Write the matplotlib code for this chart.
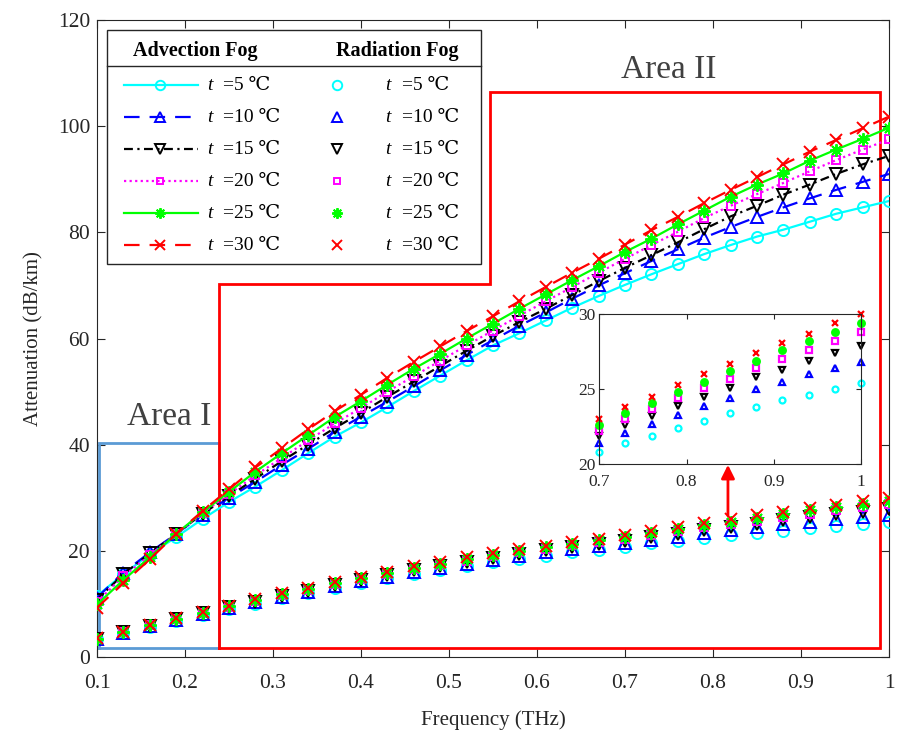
import matplotlib
matplotlib.use("Agg")
import matplotlib.pyplot as plt
from matplotlib.lines import Line2D
from matplotlib.patches import Rectangle

SERIF = ["Liberation Serif", "DejaVu Serif", "DejaVu Sans"]
plt.rcParams["font.family"] = SERIF
plt.rcParams["axes.unicode_minus"] = False

# ---------------- data ----------------
freq = [0.10, 0.13, 0.16, 0.19, 0.22, 0.25, 0.28, 0.31, 0.34, 0.37, 0.40,
        0.43, 0.46, 0.49, 0.52, 0.55, 0.58, 0.61, 0.64, 0.67, 0.70,
        0.73, 0.76, 0.79, 0.82, 0.85, 0.88, 0.91, 0.94, 0.97, 1.00]
temps = [5, 10, 15, 20, 25, 30]

# advection fog attenuation (dB/km)
adv_5 = [11.5, 15.6, 19.3, 22.6, 26.0, 29.2, 32.1, 35.2, 38.4, 41.5, 44.2,
         47.1, 50.1, 53.0, 55.9, 58.7, 61.0, 63.4, 65.8, 68.0, 70.1,
         72.1, 74.0, 75.9, 77.6, 79.2, 80.5, 82.0, 83.5, 84.7, 85.9]
adv_10 = [11.2, 15.9, 19.7, 23.2, 26.8, 30.0, 33.0, 36.2, 39.2, 42.4, 45.3,
          48.1, 51.0, 54.0, 56.9, 59.7, 62.4, 64.9, 67.5, 70.0, 72.3,
          74.6, 76.8, 79.0, 81.0, 82.9, 84.7, 86.4, 88.0, 89.5, 91.0]
adv_15 = [10.8, 15.6, 19.5, 23.2, 27.0, 30.3, 33.6, 36.9, 40.0, 43.1, 46.0,
          49.0, 51.9, 54.8, 57.7, 60.5, 63.1, 65.6, 68.2, 70.8, 73.3,
          75.7, 78.1, 80.6, 83.0, 85.0, 87.1, 89.0, 91.0, 92.8, 94.4]
adv_20 = [10.4, 15.2, 19.2, 23.2, 27.1, 30.7, 34.2, 37.5, 40.8, 44.0, 46.9,
          50.0, 52.9, 55.8, 58.7, 61.5, 64.3, 67.0, 69.7, 72.4, 75.0,
          77.6, 80.1, 82.7, 85.0, 87.2, 89.3, 91.5, 93.6, 95.6, 97.5]
adv_25 = [9.9, 14.5, 18.8, 23.2, 27.3, 31.1, 34.9, 38.4, 41.8, 45.2, 48.2,
          51.3, 54.3, 57.1, 60.0, 62.8, 65.6, 68.3, 71.0, 73.6, 76.3,
          78.8, 81.5, 84.1, 86.7, 89.0, 91.1, 93.5, 95.6, 97.6, 99.7]
adv_30 = [9.3, 13.9, 18.4, 23.2, 27.5, 31.6, 35.7, 39.3, 42.9, 46.3, 49.4,
          52.6, 55.6, 58.5, 61.4, 64.2, 67.0, 69.7, 72.4, 75.0, 77.7,
          80.4, 82.9, 85.5, 88.0, 90.4, 92.8, 95.2, 97.4, 99.6, 101.8]

# radiation fog attenuation (dB/km)
rad_5 = [3.3, 4.55, 5.7, 6.85, 7.9, 9.0, 10.05, 11.1, 12.05, 13.0, 13.95,
         14.8, 15.65, 16.4, 17.15, 17.85, 18.5, 19.1, 19.7, 20.25, 20.8,
         21.4, 21.9, 22.4, 22.9, 23.4, 23.8, 24.3, 24.6, 25.0, 25.4]
rad_10 = [3.35, 4.6, 5.8, 7.0, 8.05, 9.2, 10.3, 11.35, 12.3, 13.3, 14.25,
          15.15, 16.0, 16.8, 17.6, 18.35, 19.05, 19.7, 20.3, 20.85, 21.4,
          22.1, 22.7, 23.3, 23.9, 24.4, 25.0, 25.5, 26.0, 26.4, 26.8]
rad_15 = [3.4, 4.7, 5.9, 7.1, 8.2, 9.35, 10.45, 11.5, 12.5, 13.5, 14.5,
          15.4, 16.3, 17.1, 17.9, 18.7, 19.4, 20.1, 20.75, 21.35, 21.9,
          22.6, 23.2, 23.9, 24.5, 25.1, 25.8, 26.3, 26.9, 27.4, 27.9]
rad_20 = [3.4, 4.7, 5.95, 7.15, 8.25, 9.45, 10.55, 11.65, 12.7, 13.7, 14.7,
          15.6, 16.5, 17.3, 18.15, 18.95, 19.7, 20.4, 21.05, 21.65, 22.2,
          23.0, 23.7, 24.4, 25.1, 25.7, 26.4, 27.0, 27.6, 28.2, 28.8]
rad_25 = [3.45, 4.75, 6.0, 7.2, 8.35, 9.6, 10.7, 11.8, 12.85, 13.9, 14.9,
          15.85, 16.75, 17.6, 18.45, 19.25, 20.0, 20.7, 21.35, 22.0, 22.6,
          23.4, 24.1, 24.8, 25.5, 26.2, 26.9, 27.6, 28.2, 28.8, 29.4]
rad_30 = [3.5, 4.8, 6.05, 7.3, 8.45, 9.7, 10.85, 12.0, 13.05, 14.1, 15.15,
          16.1, 17.05, 17.9, 18.75, 19.55, 20.3, 21.0, 21.65, 22.3, 23.0,
          23.8, 24.5, 25.3, 26.0, 26.7, 27.4, 28.1, 28.7, 29.4, 30.0]

adv_series = [adv_5, adv_10, adv_15, adv_20, adv_25, adv_30]
rad_series = [rad_5, rad_10, rad_15, rad_20, rad_25, rad_30]

x_ticks = [0.1, 0.2, 0.3, 0.4, 0.5, 0.6, 0.7, 0.8, 0.9, 1.0]
x_tick_labels = ["0.1", "0.2", "0.3", "0.4", "0.5", "0.6", "0.7", "0.8", "0.9", "1"]
y_ticks = [0, 20, 40, 60, 80, 100, 120]
inset_x_ticks = [0.7, 0.8, 0.9, 1.0]
inset_x_labels = ["0.7", "0.8", "0.9", "1"]
inset_y_ticks = [20, 25, 30]
inset_start = 20  # index of 0.70 THz

# highlighted regions (frequency, attenuation)
area1_x = [0.102, 0.2386, 0.2386, 0.102, 0.102]
area1_y = [1.75, 1.75, 40.3, 40.3, 1.75]
area2_x = [0.2386, 0.2386, 0.5466, 0.5466, 0.9898, 0.9898, 0.2386]
area2_y = [1.75, 70.3, 70.3, 106.5, 106.5, 1.75, 1.75]
arrow_f = 0.817
arrow_from, arrow_to = 26.6, 36.2

# ---------------- styles ----------------
colors = [(0, 1, 1), (0, 0, 1), (0, 0, 0), (1, 0, 1), (0, 1, 0), (1, 0, 0)]
asterisk = (8, 2, 0)
markers = ["o", "^", "v", "s", asterisk, "x"]
msizes = [8, 8.5, 8.5, 5.5, 9, 8]
linestyles = ["-", (0, (7, 4.5)), (0, (4, 2, 1, 2)), (0, (1, 1.5)), "-", (0, (7, 4.5))]
inset_ms = [4.3, 4.6, 4.8, 4.2, 4.8, 4.0]
inset_markers = ["o", "^", "v", "s", "o", "x"]
inset_fill = ["none", "none", "none", "none", (0, 1, 0), "none"]

AX_GREY = (0.15, 0.15, 0.15)

W, H = 897, 731
fig = plt.figure(figsize=(W / 100, H / 100), dpi=100)
ax_l, ax_r, ax_t, ax_b = 97, 889, 20, 657
ax = fig.add_axes([ax_l / W, 1 - ax_b / H, (ax_r - ax_l) / W, (ax_b - ax_t) / H])

# advection fog: lines with markers
for vals, c, m, ms, ls in zip(adv_series, colors, markers, msizes, linestyles):
    ax.plot(freq, vals, color=c, linestyle=ls, linewidth=1.6, marker=m,
            markersize=ms, markerfacecolor="none", markeredgecolor=c,
            markeredgewidth=1.4, zorder=3)

# radiation fog: markers only
for vals, c, m, ms in zip(rad_series, colors, markers, msizes):
    ax.plot(freq, vals, linestyle="none", marker=m, markersize=ms,
            markerfacecolor="none", markeredgecolor=c,
            markeredgewidth=1.4, zorder=3)

# region outlines
ax.plot(area1_x, area1_y, color="#5B9BD5", linewidth=2, zorder=2,
        solid_joinstyle="miter")
ax.plot(area2_x, area2_y, color=(1, 0, 0), linewidth=2, zorder=2,
        solid_joinstyle="miter")
ax.text(0.182, 45.2, "Area I", fontsize=24, color=(0.25, 0.25, 0.25),
        ha="center", va="center")
ax.text(0.750, 110.6, "Area II", fontsize=24, color=(0.25, 0.25, 0.25),
        ha="center", va="center")

ax.annotate("", xy=(arrow_f, arrow_to), xytext=(arrow_f, arrow_from),
            arrowprops=dict(arrowstyle="-|>", color=(1, 0, 0), lw=2,
                            mutation_scale=20, shrinkA=0, shrinkB=0),
            zorder=4)

ax.set_xlim(0.1, 1.0)
ax.set_ylim(0, 120)
ax.set_xticks(x_ticks)
ax.set_xticklabels(x_tick_labels)
ax.set_yticks(y_ticks)
ax.tick_params(direction="in", top=True, right=True, length=5.5, width=0.8,
               labelsize=15.5, colors=AX_GREY)
ax.tick_params(axis="x", pad=12)
ax.tick_params(axis="y", pad=5)
for s in ax.spines.values():
    s.set_color(AX_GREY)
    s.set_linewidth(0.8)
ax.set_xlabel("Frequency (THz)", fontsize=15, color=AX_GREY, labelpad=13)
ax.set_ylabel("Attenuation (dB/km)", fontsize=15, color=AX_GREY, labelpad=10)


# ---------------- legend (two titled columns) ----------------
def fx(px):
    return (px - ax_l) / (ax_r - ax_l)


def fy(py):
    return (ax_b - py) / (ax_b - ax_t)


ax.add_patch(Rectangle((fx(107.3), fy(264)), fx(481) - fx(107.3), fy(30) - fy(264),
                       transform=ax.transAxes, facecolor="white",
                       edgecolor=AX_GREY, linewidth=1.0, zorder=6))
ax.add_line(Line2D([fx(107.3), fx(481)], [fy(65.7), fy(65.7)],
                   transform=ax.transAxes, color=AX_GREY, linewidth=1.0, zorder=7))
ax.text(fx(195.4), fy(51), "Advection Fog", transform=ax.transAxes,
        fontsize=14.5, fontweight="bold", ha="center", va="center", zorder=7)
ax.text(fx(397.5), fy(51), "Radiation Fog", transform=ax.transAxes,
        fontsize=14.5, fontweight="bold", ha="center", va="center", zorder=7)

for i, (t, c, m, ms, ls) in enumerate(zip(temps, colors, markers, msizes, linestyles)):
    yrow = fy(85 + 32 * i)
    ax.add_line(Line2D([fx(124), fx(197.7)], [yrow, yrow], transform=ax.transAxes,
                       color=c, linestyle=ls, linewidth=1.6, zorder=7))
    ax.add_line(Line2D([fx(160)], [yrow], transform=ax.transAxes, color=c,
                       linestyle="none", marker=m, markersize=ms * 0.85,
                       markerfacecolor="none", markeredgecolor=c,
                       markeredgewidth=1.4, zorder=8))
    ax.add_line(Line2D([fx(337.3)], [yrow], transform=ax.transAxes, color=c,
                       linestyle="none", marker=m, markersize=ms * 0.85,
                       markerfacecolor="none", markeredgecolor=c,
                       markeredgewidth=1.4, zorder=8))
    for x_t, x_eq in ((207, 223), (385, 401.7)):
        ax.text(fx(x_t), yrow, "t", transform=ax.transAxes, fontsize=14,
                fontstyle="italic", ha="left", va="center", zorder=8)
        ax.text(fx(x_eq), yrow, "=%d \u2103" % t, transform=ax.transAxes,
                fontsize=14, ha="left", va="center", zorder=8)

# ---------------- inset: radiation fog, 0.7-1 THz ----------------
in_l, in_r, in_t, in_b = 599.3, 861, 314, 464
axin = fig.add_axes([in_l / W, 1 - in_b / H, (in_r - in_l) / W, (in_b - in_t) / H])
for vals, c, m, ms, fc in zip(rad_series, colors, inset_markers, inset_ms, inset_fill):
    axin.plot(freq[inset_start:], vals[inset_start:], linestyle="none", marker=m,
              markersize=ms, markerfacecolor=fc, markeredgecolor=c,
              markeredgewidth=1.6, clip_on=False)
axin.set_xlim(0.7, 1.0)
axin.set_ylim(20, 30)
axin.set_xticks(inset_x_ticks)
axin.set_xticklabels(inset_x_labels)
axin.set_yticks(inset_y_ticks)
axin.tick_params(direction="in", top=True, right=True, length=3.5, width=0.8,
                 labelsize=12.5, colors=AX_GREY)
axin.tick_params(axis="x", pad=7)
axin.tick_params(axis="y", pad=3)
for s in axin.spines.values():
    s.set_color(AX_GREY)
    s.set_linewidth(0.8)

fig.savefig("out.png", dpi=100)
